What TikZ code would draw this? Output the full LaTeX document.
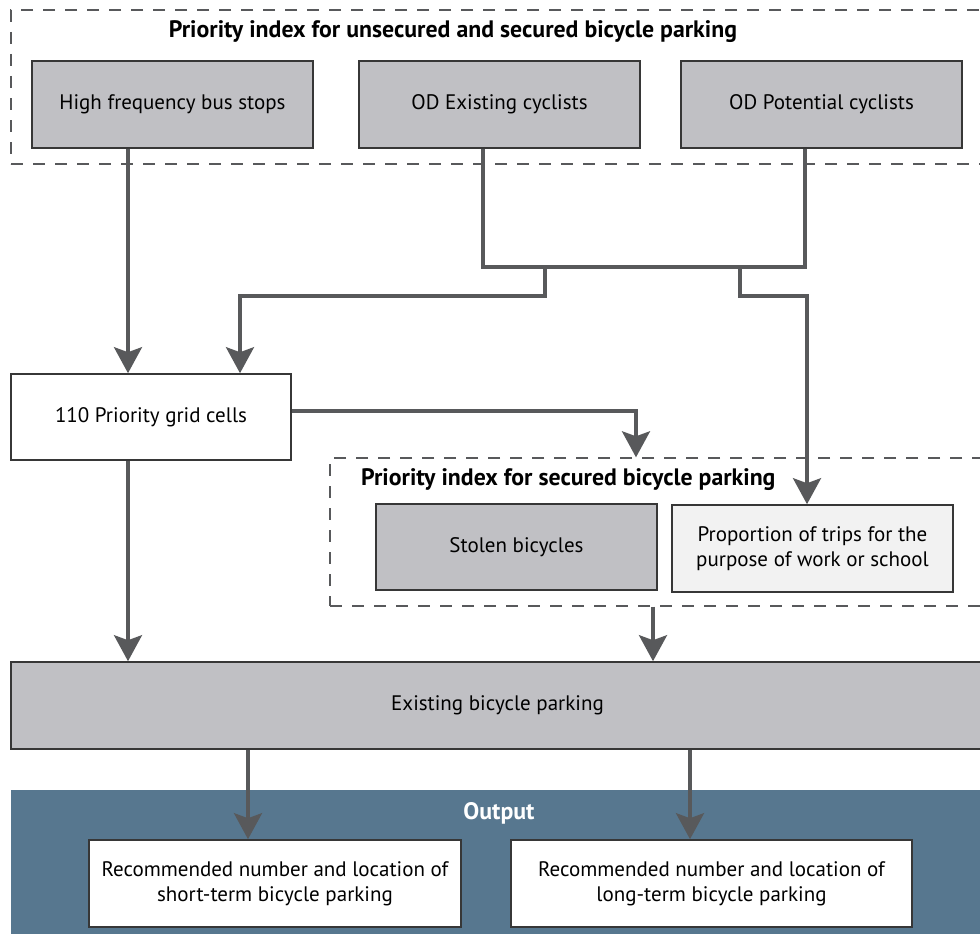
\documentclass[tikz,border=0pt]{standalone}
\usepackage{fontspec}
\setmainfont{PT Sans}
\usetikzlibrary{arrows.meta,calc}

\definecolor{boxgray}{RGB}{192,192,196}
\definecolor{paleg}{RGB}{242,242,242}
\definecolor{linec}{RGB}{88,89,91}
\definecolor{edgec}{RGB}{55,55,55}
\definecolor{outblue}{RGB}{87,119,143}

\begin{document}
\begin{tikzpicture}
  [
    x=1pt, y=-1pt,
    font=\fontsize{21}{25}\selectfont,
    block/.style =
      {draw=edgec, line width=1.6pt, fill=boxgray, align=center,
       minimum width=281pt, minimum height=87pt, inner sep=0pt},
    plain/.style =
      {block, fill=white},
    frame/.style =
      {draw=linec, line width=1.4pt, dash pattern=on 12pt off 10pt,
       inner sep=0pt},
    title/.style = {font=\fontsize{23.8}{28}\selectfont\bfseries, inner sep=0pt},
    line/.style = {draw=linec, line width=3.4pt},
    arr/.style = {line, -{Stealth[length=26pt, width=28pt, inset=5pt]}}
  ]
  \clip (0,0) rectangle (980,934);
  \useasboundingbox (0,0) rectangle (980,934);

  % frames
  \node [frame, minimum width=979pt, minimum height=154pt] at (500.5,87)  (fa) {};
  \node [frame, minimum width=660pt, minimum height=148pt] at (660,532)   (fb) {};
  \node [title] at (453,32) (ta) {Priority index for unsecured and secured bicycle parking};
  \node [title, anchor=west] at (361,480) (tb) {Priority index for secured bicycle parking};

  % inputs
  \node [block] at (172.5,104.5) (bus) {High frequency bus stops};
  \node [block] at (499.5,104.5) (ex)  {OD Existing cyclists};
  \node [block] at (821.5,104.5) (pot) {OD Potential cyclists};
  \node [plain, minimum width=280pt, minimum height=86pt] at (151,417) (grid) {110 Priority grid cells};
  \node [block, minimum height=86pt] at (516.5,547) (stolen) {Stolen bicycles};
  \node [block, fill=paleg] at (812.5,548.5) (trips)
    {Proportion of trips for the\\purpose of work or school};
  \node [block, minimum width=973pt] at (497.5,705.5) (exist) {Existing bicycle parking};

  % output
  \node [fill=outblue, minimum width=979pt, minimum height=150pt, inner sep=0pt]
    at (500.5,865) (outp) {};
  \node [title, text=white] at (499,813) (to) {Output};
  \node [plain, minimum width=372pt] at (275,883.5)   (short)
    {Recommended number and location of\\short-term bicycle parking};
  \node [plain, minimum width=401pt] at (711.5,883.5) (long)
    {Recommended number and location of\\long-term bicycle parking};

  \coordinate (ja) at (545,267);
  \coordinate (jb) at (740,267);

  \draw[line] ([xshift=-16.5pt]ex.south) |- ([xshift=-16.5pt]pot.south |- ja)
              -- ([xshift=-16.5pt]pot.south);
  \draw[arr] ([xshift=-44.5pt]bus.south) -- ([xshift=-23pt]grid.north);
  \draw[arr] (ja) -- ++(0,29) -| ([xshift=89pt]grid.north);
  \draw[arr] (jb) -- ++(0,29) -| ([xshift=-5.5pt]trips.north);
  \draw[arr] ([yshift=6pt]grid.east) -| ([xshift=-24pt]fb.north);
  \draw[arr] ([xshift=-23pt]grid.south) -- ([xshift=-23pt]grid.south |- exist.north);
  \draw[arr] ([xshift=-7pt]fb.south) -- ([xshift=-7pt]fb.south |- exist.north);
  \draw[arr] ([xshift=-27pt]short.north |- exist.south) -- ([xshift=-27pt]short.north);
  \draw[arr] ([xshift=-21.5pt]long.north |- exist.south) -- ([xshift=-21.5pt]long.north);
\end{tikzpicture}
\end{document}
